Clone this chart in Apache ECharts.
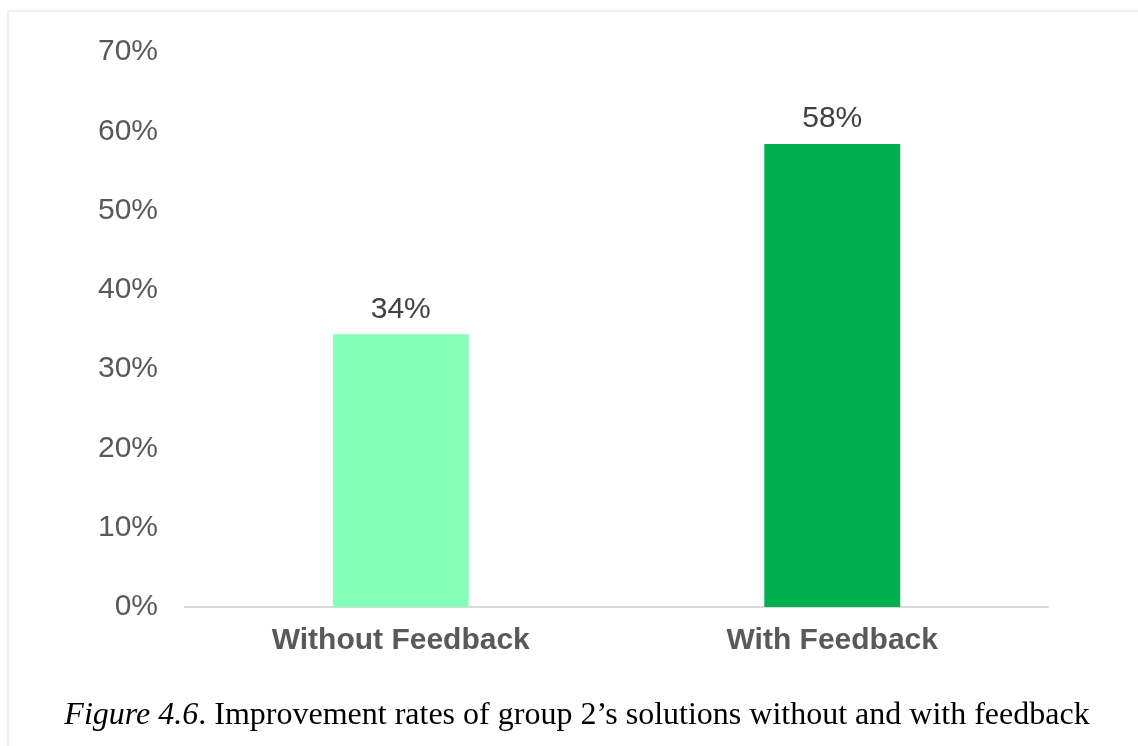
<!DOCTYPE html>
<html><head><meta charset="utf-8">
<script src="https://cdn.jsdelivr.net/npm/echarts@6/dist/echarts.min.js"></script>
<style>
html,body{margin:0;padding:0;background:#fff;width:1138px;height:746px;overflow:hidden;}
#frame{position:absolute;left:7px;top:10px;width:1131px;height:736px;border-top:2px solid #efefef;border-left:2px solid #efefef;box-sizing:border-box;}
#chart{position:absolute;left:0;top:0;width:1138px;height:746px;}
#cap{position:absolute;left:8px;width:1138px;top:697px;line-height:32px;text-align:center;font-family:"Liberation Serif","Times New Roman",serif;font-size:32px;color:#000;white-space:nowrap;}
</style></head>
<body>
<div id="frame"></div>
<div id="chart"></div>
<div id="cap"><i>Figure 4.6</i>. Improvement rates of group 2’s solutions without and with feedback</div>
<script>
const categories = ["Without Feedback", "With Feedback"];
const values = [34.4, 58.4];
const barColors = ["#86ffbb", "#00b050"];
const chart = echarts.init(document.getElementById('chart'));
chart.setOption({
  animation:false,
  grid:{left:185,right:90,top:52,bottom:139},
  xAxis:{type:'category',data:categories,
    axisLine:{lineStyle:{color:'#d9d9d9',width:2}},
    axisTick:{show:false},
    axisLabel:{fontFamily:'Liberation Sans, Arial',fontWeight:'bold',fontSize:30,color:'#595959',margin:19}},
  yAxis:{type:'value',min:0,max:70,interval:10,
    axisLine:{show:false},axisTick:{show:false},splitLine:{show:false},
    axisLabel:{formatter:'{value}%',fontFamily:'Liberation Sans, Arial',fontSize:30,color:'#595959',margin:27}},
  series:[{type:'bar',barWidth:'31.5%',
    data:values.map((v,i)=>({value:v,itemStyle:{color:barColors[i]}})),
    label:{show:true,position:'top',distance:10,formatter:p=>Math.round(p.value)+'%',
      fontFamily:'Liberation Sans, Arial',fontSize:30,color:'#404040'}}]
});
</script>
</body></html>
